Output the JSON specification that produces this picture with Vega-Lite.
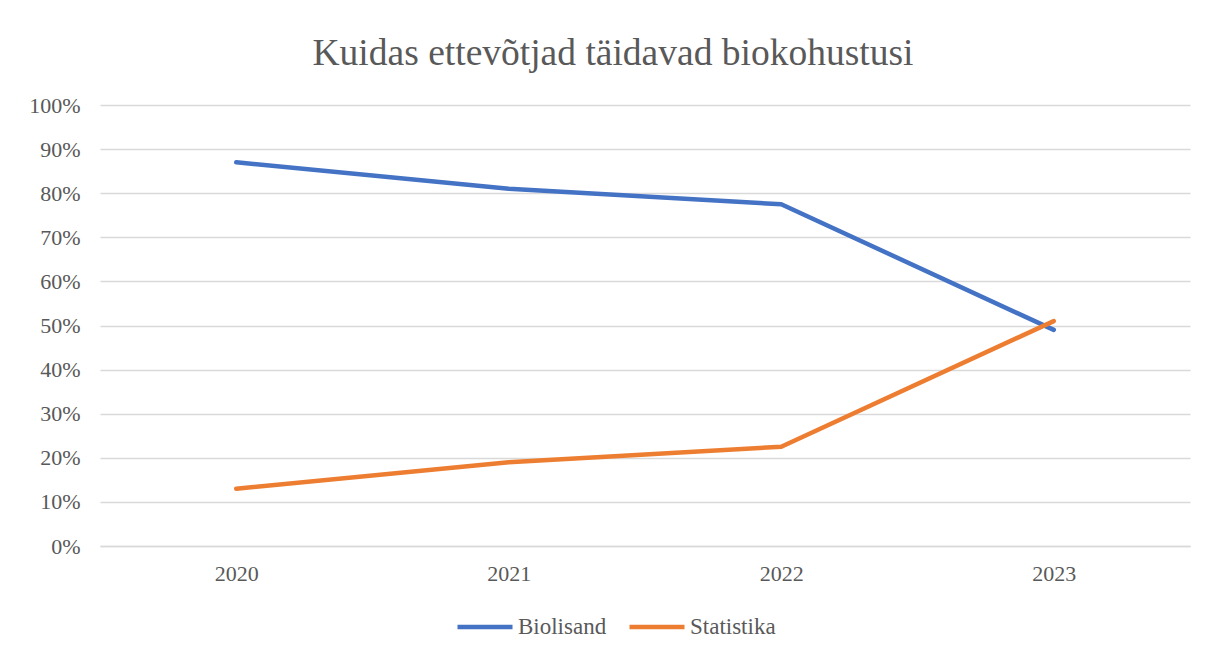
{
  "$schema": "https://vega.github.io/schema/vega-lite/v6.json",
  "width": 1090,
  "height": 441,
  "autosize": "none",
  "padding": {"left": 100, "top": 105, "right": 18, "bottom": 111},
  "background": "white",
  "config": {
    "view": {"stroke": null},
    "font": "Liberation Serif"
  },
  "title": {
    "text": "Kuidas ettevõtjad täidavad biokohustusi",
    "font": "Liberation Serif",
    "fontSize": 37.5,
    "fontWeight": "normal",
    "color": "#595959",
    "anchor": "middle",
    "dx": -32,
    "offset": 22
  },
  "data": {
    "values": [
      {"year": "2020", "series": "Biolisand", "value": 0.87},
      {"year": "2021", "series": "Biolisand", "value": 0.81},
      {"year": "2022", "series": "Biolisand", "value": 0.775},
      {"year": "2023", "series": "Biolisand", "value": 0.49},
      {"year": "2020", "series": "Statistika", "value": 0.13},
      {"year": "2021", "series": "Statistika", "value": 0.19},
      {"year": "2022", "series": "Statistika", "value": 0.225},
      {"year": "2023", "series": "Statistika", "value": 0.51}
    ]
  },
  "mark": {"type": "line", "strokeWidth": 4.5, "strokeCap": "round", "strokeJoin": "round"},
  "encoding": {
    "x": {
      "field": "year",
      "type": "ordinal",
      "scale": {"type": "point", "padding": 0.5},
      "axis": {
        "title": null,
        "labelAngle": 0,
        "labelFont": "Liberation Serif",
        "labelFontSize": 22,
        "labelColor": "#595959",
        "labelPadding": 17,
        "ticks": false,
        "domainColor": "#d9d9d9",
        "domainWidth": 1.5,
        "grid": false
      }
    },
    "y": {
      "field": "value",
      "type": "quantitative",
      "scale": {"domain": [0, 1], "nice": false},
      "axis": {
        "title": null,
        "format": ".0%",
        "values": [0, 0.1, 0.2, 0.3, 0.4, 0.5, 0.6, 0.7, 0.8, 0.9, 1],
        "labelFont": "Liberation Serif",
        "labelFontSize": 22,
        "labelColor": "#595959",
        "labelPadding": 20,
        "ticks": false,
        "domain": false,
        "gridColor": "#d9d9d9",
        "gridWidth": 1.5
      }
    },
    "color": {
      "field": "series",
      "type": "nominal",
      "scale": {"domain": ["Biolisand", "Statistika"], "range": ["#4472C4", "#ED7D31"]},
      "legend": {
        "title": null,
        "orient": "none",
        "direction": "horizontal",
        "legendX": 355,
        "legendY": 492,
        "padding": 0,
        "symbolType": "stroke",
        "symbolSize": 3025,
        "symbolStrokeWidth": 4.5,
        "labelFont": "Liberation Serif",
        "labelFontSize": 23,
        "labelColor": "#595959",
        "labelOffset": 3,
        "columnPadding": 13
      }
    }
  }
}
